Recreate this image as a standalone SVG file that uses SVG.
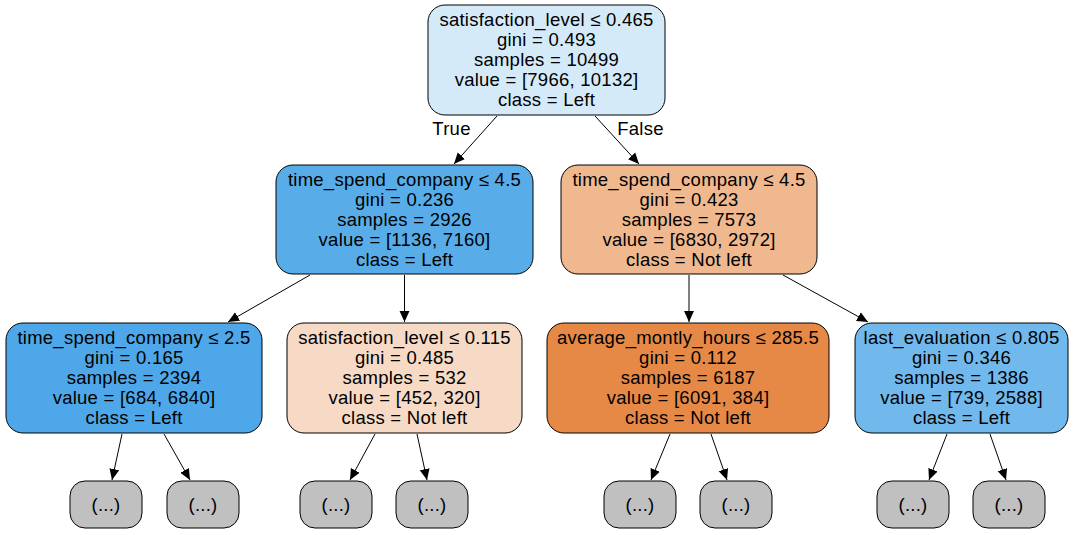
<svg xmlns="http://www.w3.org/2000/svg" width="1075" height="535" viewBox="0 0 1075 535">
<defs>
<style>
.n{stroke:#000;stroke-width:1}
.t{font-family:"Liberation Sans",Arial,Helvetica,sans-serif;font-size:18.5px;letter-spacing:0.25px;fill:#000;text-anchor:middle}
.e{stroke:#000;stroke-width:1;fill:none;marker-end:url(#ah)}
.leaf{fill:#c0c0c0;stroke:#000;stroke-width:1}
</style>
<marker id="ah" viewBox="0 0 10 10" refX="10" refY="5" markerWidth="11" markerHeight="11" markerUnits="userSpaceOnUse" orient="auto">
<path d="M0,0.5 L10,5 L0,9.5 z" fill="#000"/>
</marker>
</defs>
<rect width="1075" height="535" fill="#fff"/>
<g id="connectors">
<line class="e" x1="497" y1="116" x2="454" y2="164"/>
<line class="e" x1="595" y1="116" x2="639" y2="164"/>
<line class="e" x1="310" y1="275" x2="228" y2="322"/>
<line class="e" x1="404.5" y1="275" x2="404.5" y2="322"/>
<line class="e" x1="689" y1="275" x2="689" y2="322"/>
<line class="e" x1="783" y1="275" x2="868" y2="322"/>
<line class="e" x1="122" y1="434" x2="112" y2="480"/>
<line class="e" x1="164" y1="434" x2="190" y2="480"/>
<line class="e" x1="375" y1="434" x2="350" y2="480"/>
<line class="e" x1="417" y1="434" x2="427" y2="480"/>
<line class="e" x1="670" y1="434" x2="651" y2="480"/>
<line class="e" x1="711" y1="434" x2="727" y2="480"/>
<line class="e" x1="947" y1="434" x2="929" y2="480"/>
<line class="e" x1="990" y1="434" x2="1006" y2="480"/>
<text class="t" x="451.5" y="135">True</text>
<text class="t" x="640.5" y="135">False</text>
</g>
<g id="node0">
<rect class="n" x="428" y="5" width="237" height="110" rx="17" fill="#d5eaf9"/>
<text class="t" x="546.5" y="26">satisfaction_level ≤ 0.465</text>
<text class="t" x="546.5" y="46">gini = 0.493</text>
<text class="t" x="546.5" y="66">samples = 10499</text>
<text class="t" x="546.5" y="86">value = [7966, 10132]</text>
<text class="t" x="546.5" y="106">class = Left</text>
</g>
<g id="node1">
<rect class="n" x="276" y="165" width="257" height="109" rx="17" fill="#58ade9"/>
<text class="t" x="404.5" y="186">time_spend_company ≤ 4.5</text>
<text class="t" x="404.5" y="206">gini = 0.236</text>
<text class="t" x="404.5" y="226">samples = 2926</text>
<text class="t" x="404.5" y="246">value = [1136, 7160]</text>
<text class="t" x="404.5" y="266">class = Left</text>
</g>
<g id="node2">
<rect class="n" x="561" y="165" width="256" height="109" rx="17" fill="#f0b88f"/>
<text class="t" x="689" y="186">time_spend_company ≤ 4.5</text>
<text class="t" x="689" y="206">gini = 0.423</text>
<text class="t" x="689" y="226">samples = 7573</text>
<text class="t" x="689" y="246">value = [6830, 2972]</text>
<text class="t" x="689" y="266">class = Not left</text>
</g>
<g id="node3">
<rect class="n" x="6" y="323" width="256" height="110" rx="17" fill="#4da7e8"/>
<text class="t" x="134" y="344">time_spend_company ≤ 2.5</text>
<text class="t" x="134" y="364">gini = 0.165</text>
<text class="t" x="134" y="384">samples = 2394</text>
<text class="t" x="134" y="404">value = [684, 6840]</text>
<text class="t" x="134" y="424">class = Left</text>
</g>
<g id="node4">
<rect class="n" x="287" y="323" width="235" height="110" rx="17" fill="#f7dac5"/>
<text class="t" x="404.5" y="344">satisfaction_level ≤ 0.115</text>
<text class="t" x="404.5" y="364">gini = 0.485</text>
<text class="t" x="404.5" y="384">samples = 532</text>
<text class="t" x="404.5" y="404">value = [452, 320]</text>
<text class="t" x="404.5" y="424">class = Not left</text>
</g>
<g id="node5">
<rect class="n" x="547" y="323" width="282" height="110" rx="17" fill="#e78946"/>
<text class="t" x="688" y="344">average_montly_hours ≤ 285.5</text>
<text class="t" x="688" y="364">gini = 0.112</text>
<text class="t" x="688" y="384">samples = 6187</text>
<text class="t" x="688" y="404">value = [6091, 384]</text>
<text class="t" x="688" y="424">class = Not left</text>
</g>
<g id="node6">
<rect class="n" x="855" y="323" width="213" height="110" rx="17" fill="#71b9ec"/>
<text class="t" x="961.5" y="344">last_evaluation ≤ 0.805</text>
<text class="t" x="961.5" y="364">gini = 0.346</text>
<text class="t" x="961.5" y="384">samples = 1386</text>
<text class="t" x="961.5" y="404">value = [739, 2588]</text>
<text class="t" x="961.5" y="424">class = Left</text>
</g>
<g id="leaf1"><rect class="leaf" x="70" y="481" width="72" height="47" rx="15"/><text class="t" x="106" y="511">(...)</text></g>
<g id="leaf2"><rect class="leaf" x="167" y="481" width="72" height="47" rx="15"/><text class="t" x="203" y="511">(...)</text></g>
<g id="leaf3"><rect class="leaf" x="300" y="481" width="72" height="47" rx="15"/><text class="t" x="336" y="511">(...)</text></g>
<g id="leaf4"><rect class="leaf" x="396" y="481" width="72" height="47" rx="15"/><text class="t" x="432" y="511">(...)</text></g>
<g id="leaf5"><rect class="leaf" x="604" y="481" width="72" height="47" rx="15"/><text class="t" x="640" y="511">(...)</text></g>
<g id="leaf6"><rect class="leaf" x="700" y="481" width="72" height="47" rx="15"/><text class="t" x="736" y="511">(...)</text></g>
<g id="leaf7"><rect class="leaf" x="877" y="481" width="72" height="47" rx="15"/><text class="t" x="913" y="511">(...)</text></g>
<g id="leaf8"><rect class="leaf" x="973" y="481" width="72" height="47" rx="15"/><text class="t" x="1009" y="511">(...)</text></g>
</svg>
